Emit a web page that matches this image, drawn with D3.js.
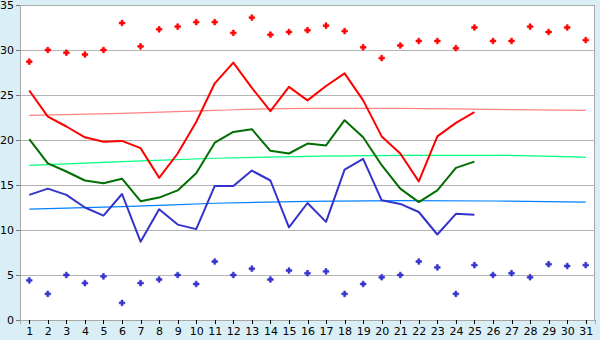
<!DOCTYPE html>
<html lang="en">
<head>
<meta charset="utf-8">
<title>Daily temperatures</title>
<script src="https://d3js.org/d3.v7.min.js"></script>
<style>
  body { margin: 0; background: #d9eef5; }
  svg { display: block; }
  .tick text { font-family: "DejaVu Sans", Verdana, sans-serif; font-size: 11px; fill: #000; }
</style>
</head>
<body>
<div id="chart"></div>
<script>

// days of the month
var days = d3.range(1, 32);
var yTicks = [0, 5, 10, 15, 20, 25, 30, 35];

// daily max (red dots) and min (blue dots), days 1-31
var maxTemp = [28.7, 30.0, 29.7, 29.5, 30.0, 33.0, 30.4, 32.3, 32.6, 33.1,
               33.1, 31.9, 33.6, 31.7, 32.0, 32.2, 32.7, 32.1, 30.3, 29.1,
               30.5, 31.0, 31.0, 30.2, 32.5, 31.0, 31.0, 32.6, 32.0, 32.5, 31.1];
var minTemp = [4.4, 2.9, 5.0, 4.1, 4.85, 1.9, 4.1, 4.5, 5.0, 4.0,
               6.5, 5.0, 5.7, 4.5, 5.5, 5.2, 5.4, 2.9, 4.0, 4.75,
               5.0, 6.5, 5.85, 2.9, 6.1, 5.0, 5.2, 4.75, 6.2, 6.0, 6.1];

// this month, days 1-25
var highLine = [25.5, 22.6, 21.5, 20.3, 19.8, 19.9, 19.1, 15.8, 18.5, 22.0,
                26.3, 28.6, 25.8, 23.2, 25.9, 24.4, 26.0, 27.4, 24.4, 20.4,
                18.5, 15.4, 20.4, 21.9, 23.1];
var meanLine = [20.1, 17.4, 16.5, 15.5, 15.2, 15.7, 13.2, 13.6, 14.4, 16.3,
                19.7, 20.9, 21.2, 18.8, 18.5, 19.6, 19.4, 22.2, 20.3, 17.2,
                14.6, 13.1, 14.4, 16.9, 17.6];
var lowLine  = [13.9, 14.6, 13.9, 12.5, 11.6, 14.0, 8.7, 12.3, 10.6, 10.1,
                14.9, 14.9, 16.6, 15.5, 10.3, 13.0, 10.9, 16.7, 17.9, 13.3,
                12.9, 12.0, 9.5, 11.8, 11.7];

// long-term normals, read at days 1, 6, 11, 16, 21, 26, 31
var normDays  = [1, 6, 11, 16, 21, 26, 31];
var normHigh  = [22.74, 22.96, 23.3, 23.52, 23.52, 23.4, 23.3];
var normMean  = [17.19, 17.6, 17.97, 18.19, 18.3, 18.3, 18.08];
var normLow   = [12.33, 12.59, 12.97, 13.19, 13.26, 13.22, 13.1];

var width = 600, height = 340;
var plotLeft = 20, plotRight = 595, plotTop = 5, plotBottom = 320;

var svg = d3.select("#chart").append("svg")
  .attr("width", width)
  .attr("height", height);

var x = d3.scalePoint().domain(days).range([plotLeft, plotRight]).padding(0.5);
var y = d3.scaleLinear().domain([0, 35]).range([plotBottom, plotTop]);

// plot background
svg.append("rect")
  .attr("x", plotLeft).attr("y", plotTop)
  .attr("width", plotRight - plotLeft).attr("height", plotBottom - plotTop)
  .attr("fill", "#fff");

// grid
svg.append("g")
  .attr("transform", "translate(" + plotLeft + ",0)")
  .call(d3.axisLeft(y).tickValues(yTicks).tickSize(-(plotRight - plotLeft)).tickFormat(""))
  .call(function(g) {
    g.select(".domain").remove();
    g.selectAll(".tick line").attr("stroke", "#b4b4b4").attr("shape-rendering", "crispEdges");
  });

// frame
svg.append("rect")
  .attr("x", plotLeft + 0.5).attr("y", plotTop + 0.5)
  .attr("width", plotRight - plotLeft - 1).attr("height", plotBottom - plotTop)
  .attr("fill", "none")
  .attr("stroke", "#a8a8a8");

// axes
svg.append("g")
  .attr("transform", "translate(" + plotLeft + ",0)")
  .call(d3.axisLeft(y).tickValues(yTicks).tickSize(4).tickPadding(2))
  .call(function(g) {
    g.select(".domain").attr("stroke", "#a8a8a8");
    g.selectAll(".tick line").attr("stroke", "#777");
  })
  .attr("shape-rendering", "crispEdges");

svg.append("g")
  .attr("transform", "translate(0," + plotBottom + ")")
  .call(d3.axisBottom(x).tickSize(4).tickPadding(3))
  .call(function(g) {
    g.select(".domain").attr("stroke", "#a8a8a8");
    g.selectAll(".tick line").attr("stroke", "#000");
  })
  .attr("shape-rendering", "crispEdges");

// normal (trend) lines
var normLine = d3.line()
  .x(function(d, i) { return x(normDays[i]); })
  .y(function(d) { return y(d); })
  .curve(d3.curveMonotoneX);

[[normHigh, "#ff8080"], [normMean, "#00ff80"], [normLow, "#0080ff"]].forEach(function(s) {
  svg.append("path")
    .attr("d", normLine(s[0]))
    .attr("fill", "none")
    .attr("stroke", s[1])
    .attr("stroke-width", 1.2);
});

// this month's lines
var dayLine = d3.line()
  .x(function(d, i) { return x(days[i]); })
  .y(function(d) { return y(d); });

[[highLine, "#ff0000"], [meanLine, "#006e00"], [lowLine, "#3333cc"]].forEach(function(s) {
  svg.append("path")
    .attr("d", dayLine(s[0]))
    .attr("fill", "none")
    .attr("stroke", s[1])
    .attr("stroke-width", 2)
    .attr("stroke-linejoin", "round");
});

// extremes markers (small plus-shaped blobs)
var marker = d3.symbol().type(d3.symbolCross).size(18);

[[maxTemp, "#ff0000"], [minTemp, "#3333cc"]].forEach(function(s) {
  svg.append("g")
    .selectAll("path")
    .data(s[0])
    .enter()
    .append("path")
      .attr("d", marker)
      .attr("transform", function(d, i) { return "translate(" + x(days[i]) + "," + y(d) + ")"; })
      .attr("fill", s[1])
      .attr("stroke", s[1])
      .attr("stroke-width", 0.6);
});

</script>
</body>
</html>
